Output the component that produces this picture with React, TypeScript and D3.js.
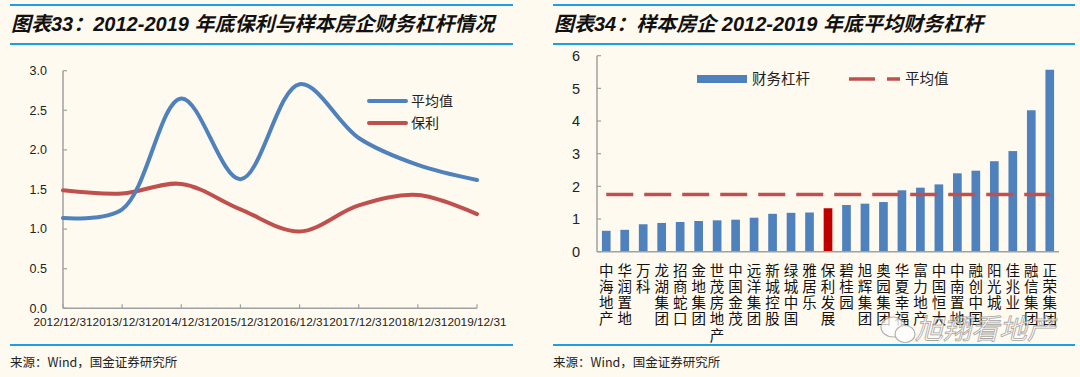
import React from "react";
import * as d3 from "d3";

// ---------- Data ----------
const years = [
  "2012/12/31", "2013/12/31", "2014/12/31", "2015/12/31",
  "2016/12/31", "2017/12/31", "2018/12/31", "2019/12/31",
];
const avgSeries = [1.14, 1.25, 2.65, 1.63, 2.83, 2.15, 1.81, 1.62];
const polySeries = [1.49, 1.45, 1.57, 1.25, 0.97, 1.30, 1.43, 1.19];
const leftTicks = [0, 0.5, 1, 1.5, 2, 2.5, 3];

const companies = [
  "中海地产", "华润置地", "万科", "龙湖集团", "招商蛇口", "金地集团", "世茂房地产",
  "中国金茂", "远洋集团", "新城控股", "绿城中国", "雅居乐", "保利发展", "碧桂园",
  "旭辉集团", "奥园集团", "华夏幸福", "富力地产", "中国恒大", "中南置地", "融创中国",
  "阳光城", "佳兆业", "融信集团", "正荣集团",
];
const leverage = [
  0.64, 0.67, 0.84, 0.88, 0.91, 0.94, 0.96, 0.98, 1.04, 1.16, 1.19, 1.20, 1.33,
  1.43, 1.47, 1.52, 1.88, 1.96, 2.06, 2.40, 2.48, 2.77, 3.08, 4.33, 5.57,
];
const averageLeverage = 1.75;
const highlight = "保利发展";
const rightTicks = [0, 1, 2, 3, 4, 5, 6];

// ---------- Styles ----------
const BG = "#FFFAF0";
const RULE = "#1BA1E2";
const BLUE = "#4F81BD";
const RED = "#C0504D";
const DARKRED = "#C00000";
const AXIS = "#A0A0A0";
const SANS = "'Liberation Sans', Arial, 'Noto Sans CJK SC', sans-serif";
const CJK = "'Noto Sans CJK SC', 'Liberation Sans', sans-serif";

export default function App() {
  // Left chart scales
  const xL = d3.scalePoint<string>().domain(years).range([63, 477]);
  const yL = d3.scaleLinear().domain([0, 3]).range([308.3, 70.7]);
  const line = d3
    .line<number>()
    .x((_, i) => xL(years[i]) as number)
    .y((d) => yL(d))
    .curve(d3.curveCatmullRom.alpha(0.5));

  // Right chart scales
  const xR = d3.scaleBand<string>().domain(companies).range([597, 1059]).paddingInner(0.53).paddingOuter(0.265);
  const yR = d3.scaleLinear().domain([0, 6]).range([251.7, 55.7]);
  const cx = (c: string) => (xR(c) as number) + xR.bandwidth() / 2;

  return (
    <svg
      width={1080}
      height={377}
      style={{ position: "absolute", left: 0, top: 0, display: "block" }}
    >
      <rect x={0} y={0} width={1080} height={377} fill={BG} />

      {/* Rules */}
      <line x1={10} x2={513} y1={5} y2={5} stroke={RULE} strokeWidth={2} />
      <line x1={10} x2={513} y1={44} y2={44} stroke={RULE} strokeWidth={2} />
      <line x1={553} x2={1075} y1={5} y2={5} stroke={RULE} strokeWidth={2} />
      <line x1={553} x2={1075} y1={44} y2={44} stroke={RULE} strokeWidth={2} />
      <line x1={10} x2={513} y1={345} y2={345} stroke={RULE} strokeWidth={2} />
      <line x1={553} x2={1075} y1={345} y2={345} stroke={RULE} strokeWidth={2} />

      {/* Titles */}
      <text x={11} y={31} fontFamily={SANS} fontSize={20} fontWeight="bold" fontStyle="italic" fill="#111">
        图表33：2012-2019 年底保利与样本房企财务杠杆情况
      </text>
      <text x={554} y={31} fontFamily={SANS} fontSize={20} fontWeight="bold" fontStyle="italic" fill="#111">
        图表34：样本房企 2012-2019 年底平均财务杠杆
      </text>

      {/* Sources */}
      <text x={10} y={367} fontFamily={CJK} fontSize={12.5} fill="#222">来源：Wind，国金证券研究所</text>
      <text x={553} y={367} fontFamily={CJK} fontSize={12.5} fill="#222">来源：Wind，国金证券研究所</text>

      {/* ---------- Left chart ---------- */}
      <g>
        <line x1={63} x2={63} y1={yL(3)} y2={yL(0)} stroke={AXIS} strokeWidth={1.5} />
        <line x1={63} x2={477} y1={yL(0)} y2={yL(0)} stroke={AXIS} strokeWidth={1.5} />
        {leftTicks.map((t) => (
          <g key={t}>
            <line x1={63} x2={67} y1={yL(t)} y2={yL(t)} stroke={AXIS} strokeWidth={1.2} />
            <text x={47} y={yL(t)} dy="0.35em" textAnchor="end" fontFamily={SANS} fontSize={12.5} fill="#222">
              {d3.format(".1f")(t)}
            </text>
          </g>
        ))}
        {years.map((y) => (
          <g key={y}>
            <line x1={xL(y)} x2={xL(y)} y1={yL(0)} y2={yL(0) - 4} stroke={AXIS} strokeWidth={1.2} />
            <text x={xL(y)} y={326} textAnchor="middle" fontFamily={SANS} fontSize={11.8} fill="#222">
              {y}
            </text>
          </g>
        ))}
        <path d={line(polySeries) || ""} fill="none" stroke={RED} strokeWidth={4} strokeLinecap="round" />
        <path d={line(avgSeries) || ""} fill="none" stroke={BLUE} strokeWidth={4} strokeLinecap="round" />

        {/* legend */}
        <line x1={369} x2={406} y1={101} y2={101} stroke={BLUE} strokeWidth={4} strokeLinecap="round" />
        <text x={411} y={101} dy="0.35em" fontFamily={CJK} fontSize={14} fill="#222">平均值</text>
        <line x1={369} x2={406} y1={123} y2={123} stroke={RED} strokeWidth={4} strokeLinecap="round" />
        <text x={411} y={123} dy="0.35em" fontFamily={CJK} fontSize={14} fill="#222">保利</text>
      </g>

      {/* ---------- Right chart ---------- */}
      <g>
        {companies.map((c, i) => (
          <rect
            key={c}
            x={xR(c)}
            y={yR(leverage[i])}
            width={xR.bandwidth()}
            height={yR(0) - yR(leverage[i])}
            fill={c === highlight ? DARKRED : BLUE}
          />
        ))}
        <line x1={597} x2={597} y1={yR(6)} y2={yR(0)} stroke={AXIS} strokeWidth={1.5} />
        <line x1={597} x2={1059} y1={yR(0)} y2={yR(0)} stroke={AXIS} strokeWidth={1.5} />
        {rightTicks.map((t) => (
          <g key={t}>
            <line x1={597} x2={601} y1={yR(t)} y2={yR(t)} stroke={AXIS} strokeWidth={1.2} />
            <text x={580} y={yR(t)} dy="0.36em" textAnchor="end" fontFamily={SANS} fontSize={14.5} fill="#222">
              {t}
            </text>
          </g>
        ))}
        <line
          x1={cx(companies[0])}
          x2={cx(companies[companies.length - 1])}
          y1={yR(averageLeverage)}
          y2={yR(averageLeverage)}
          stroke={RED}
          strokeWidth={3.5}
          strokeDasharray="27 11"
        />
        {companies.map((c) => (
          <g key={c}>
            {Array.from(c).map((ch, j) => (
              <text
                key={j}
                x={cx(c)}
                y={263 + j * 16.2}
                dy="0.88em"
                textAnchor="middle"
                fontFamily={CJK}
                fontSize={14.5}
                fill="#111"
              >
                {ch}
              </text>
            ))}
          </g>
        ))}

        {/* legend */}
        <rect x={697} y={75} width={50} height={8} fill={BLUE} />
        <text x={752} y={79} dy="0.35em" fontFamily={CJK} fontSize={14.5} fill="#222">财务杠杆</text>
        <line x1={849} x2={900} y1={79} y2={79} stroke={RED} strokeWidth={3.5} strokeDasharray="26 12" />
        <text x={905} y={79} dy="0.35em" fontFamily={CJK} fontSize={14.5} fill="#222">平均值</text>
      </g>

      {/* Watermark */}
      <g opacity={0.75}>
        <ellipse cx={893} cy={327} rx={12} ry={10} fill="#fff" stroke="#999" strokeWidth={1.2} />
        <ellipse cx={905} cy={334} rx={10} ry={8.5} fill="#fff" stroke="#999" strokeWidth={1.2} />
        <text x={915} y={339} fontFamily={CJK} fontSize={28} fontStyle="italic" fill="#fff" stroke="#888" strokeWidth={0.8}>
          旭翔看地产
        </text>
      </g>
    </svg>
  );
}
